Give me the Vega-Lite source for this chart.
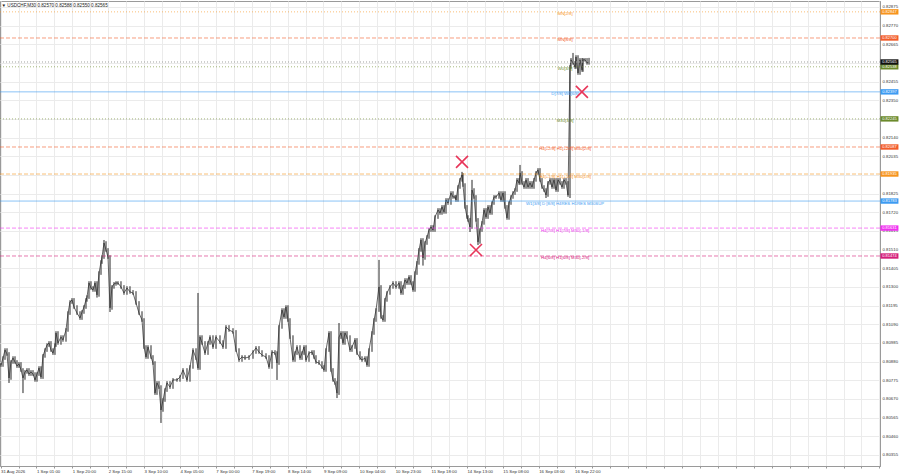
{
"$schema":"https://vega.github.io/schema/vega-lite/v6.json",
"width":880,"height":465,
"autosize":"none",
"padding":{"left":0,"top":1,"right":20,"bottom":8},
"background":"white",
"config":{"view":{"stroke":"#9a9a9a","strokeWidth":1},"font":"Liberation Sans"},
"title":{"text":"▼ USDCHF,M30  0.82570 0.82588 0.82550 0.82565","anchor":"start","offset":-7,"dx":2,"fontSize":4.6,"fontWeight":"normal","color":"#222","font":"Liberation Sans"},
"datasets":{
"bars":[
{"t":6.2,"c":0.80861,"h":0.80871,"l":0.80851},
{"t":7.26,"c":0.809,"h":0.8091,"l":0.80851},
{"t":8.32,"c":0.80945,"h":0.80955,"l":0.8089},
{"t":9.38,"c":0.80923,"h":0.80955,"l":0.80913},
{"t":10.44,"c":0.80788,"h":0.80933,"l":0.8076},
{"t":11.5,"c":0.80878,"h":0.80888,"l":0.80778},
{"t":12.56,"c":0.809,"h":0.8091,"l":0.80868},
{"t":13.62,"c":0.80878,"h":0.8091,"l":0.80868},
{"t":14.67,"c":0.80855,"h":0.80888,"l":0.80845},
{"t":15.73,"c":0.80867,"h":0.80877,"l":0.80845},
{"t":16.79,"c":0.80833,"h":0.80877,"l":0.80823},
{"t":17.85,"c":0.80788,"h":0.80843,"l":0.80703},
{"t":18.91,"c":0.80822,"h":0.80832,"l":0.80778},
{"t":19.97,"c":0.80833,"h":0.80843,"l":0.80812},
{"t":21.03,"c":0.8081,"h":0.80843,"l":0.808},
{"t":22.09,"c":0.80822,"h":0.80832,"l":0.808},
{"t":23.15,"c":0.8081,"h":0.80832,"l":0.808},
{"t":24.21,"c":0.80777,"h":0.8082,"l":0.80767},
{"t":25.27,"c":0.8081,"h":0.8082,"l":0.80767},
{"t":26.33,"c":0.80844,"h":0.80854,"l":0.808},
{"t":27.39,"c":0.80793,"h":0.80854,"l":0.80783},
{"t":28.45,"c":0.80912,"h":0.80922,"l":0.80783},
{"t":29.51,"c":0.80945,"h":0.80955,"l":0.80902},
{"t":30.57,"c":0.80973,"h":0.80983,"l":0.80935},
{"t":31.63,"c":0.80985,"h":0.80995,"l":0.80963},
{"t":32.68,"c":0.80945,"h":0.80995,"l":0.80935},
{"t":33.74,"c":0.80928,"h":0.80955,"l":0.80918},
{"t":34.8,"c":0.80973,"h":0.80983,"l":0.80918},
{"t":35.33,"c":0.81041,"h":0.81051,"l":0.80963},
{"t":36.39,"c":0.80985,"h":0.81051,"l":0.80975},
{"t":37.98,"c":0.81018,"h":0.81028,"l":0.80975},
{"t":39.04,"c":0.81002,"h":0.81028,"l":0.80992},
{"t":40.63,"c":0.81058,"h":0.81068,"l":0.80992},
{"t":41.69,"c":0.81153,"h":0.81163,"l":0.81048},
{"t":42.75,"c":0.81215,"h":0.81225,"l":0.81143},
{"t":43.81,"c":0.81227,"h":0.81237,"l":0.81205},
{"t":44.87,"c":0.81187,"h":0.81237,"l":0.81177},
{"t":46.46,"c":0.81153,"h":0.81197,"l":0.81143},
{"t":48.05,"c":0.81125,"h":0.81163,"l":0.81115},
{"t":49.11,"c":0.81159,"h":0.81169,"l":0.81115},
{"t":50.16,"c":0.81187,"h":0.81197,"l":0.81149},
{"t":51.22,"c":0.81227,"h":0.81237,"l":0.81177},
{"t":51.75,"c":0.81243,"h":0.81253,"l":0.81217},
{"t":52.81,"c":0.81322,"h":0.81332,"l":0.81233},
{"t":53.87,"c":0.81294,"h":0.81332,"l":0.81284},
{"t":54.93,"c":0.81283,"h":0.81304,"l":0.81273},
{"t":55.99,"c":0.81322,"h":0.81332,"l":0.81273},
{"t":57.05,"c":0.81255,"h":0.81332,"l":0.8124},
{"t":58.11,"c":0.81378,"h":0.81388,"l":0.81245},
{"t":59.17,"c":0.8144,"h":0.8145,"l":0.81368},
{"t":59.7,"c":0.81468,"h":0.81478,"l":0.8143},
{"t":60.76,"c":0.81547,"h":0.81564,"l":0.81458},
{"t":61.82,"c":0.81508,"h":0.81557,"l":0.81498},
{"t":62.88,"c":0.81468,"h":0.81518,"l":0.81458},
{"t":63.94,"c":0.81182,"h":0.81478,"l":0.81159},
{"t":65.0,"c":0.813,"h":0.8131,"l":0.81172},
{"t":66.06,"c":0.81317,"h":0.81327,"l":0.8129},
{"t":67.12,"c":0.81322,"h":0.81332,"l":0.81307},
{"t":68.17,"c":0.81322,"h":0.81332,"l":0.81312},
{"t":69.76,"c":0.813,"h":0.81332,"l":0.8129},
{"t":71.35,"c":0.81266,"h":0.8131,"l":0.81256},
{"t":72.94,"c":0.81294,"h":0.81304,"l":0.81256},
{"t":74.53,"c":0.81272,"h":0.81304,"l":0.81262},
{"t":76.12,"c":0.81266,"h":0.81282,"l":0.81256},
{"t":77.71,"c":0.8121,"h":0.81276,"l":0.812},
{"t":79.3,"c":0.81153,"h":0.8122,"l":0.81143},
{"t":80.89,"c":0.81114,"h":0.81163,"l":0.81104},
{"t":81.95,"c":0.80962,"h":0.81124,"l":0.80952},
{"t":83.01,"c":0.80906,"h":0.80972,"l":0.80896},
{"t":84.07,"c":0.80962,"h":0.80972,"l":0.80896},
{"t":85.66,"c":0.80906,"h":0.80972,"l":0.80896},
{"t":86.71,"c":0.80872,"h":0.80916,"l":0.80862},
{"t":87.77,"c":0.80703,"h":0.80882,"l":0.80693},
{"t":88.83,"c":0.8076,"h":0.8077,"l":0.80693},
{"t":89.89,"c":0.80737,"h":0.8077,"l":0.80727},
{"t":90.95,"c":0.80608,"h":0.80747,"l":0.80535},
{"t":92.01,"c":0.80664,"h":0.80674,"l":0.80598},
{"t":93.07,"c":0.8072,"h":0.8073,"l":0.80654},
{"t":94.13,"c":0.8076,"h":0.8077,"l":0.8071},
{"t":95.72,"c":0.80737,"h":0.8077,"l":0.80727},
{"t":97.31,"c":0.80777,"h":0.80787,"l":0.80727},
{"t":99.43,"c":0.80777,"h":0.80787,"l":0.80767},
{"t":101.02,"c":0.80793,"h":0.80803,"l":0.80767},
{"t":102.61,"c":0.80833,"h":0.80843,"l":0.80783},
{"t":104.72,"c":0.80777,"h":0.80843,"l":0.80767},
{"t":106.31,"c":0.8085,"h":0.8086,"l":0.80767},
{"t":107.9,"c":0.80945,"h":0.80955,"l":0.8084},
{"t":109.49,"c":0.809,"h":0.80955,"l":0.8089},
{"t":110.55,"c":0.80844,"h":0.81266,"l":0.80834},
{"t":111.61,"c":0.81018,"h":0.81028,"l":0.80834},
{"t":112.67,"c":0.80985,"h":0.81028,"l":0.80975},
{"t":114.26,"c":0.80928,"h":0.80995,"l":0.80918},
{"t":115.85,"c":0.80985,"h":0.80995,"l":0.80918},
{"t":116.91,"c":0.81018,"h":0.81028,"l":0.80975},
{"t":118.49,"c":0.80962,"h":0.81028,"l":0.80952},
{"t":120.09,"c":0.81018,"h":0.81028,"l":0.80952},
{"t":122.2,"c":0.8099,"h":0.81028,"l":0.8098},
{"t":123.79,"c":0.80962,"h":0.81,"l":0.80952},
{"t":125.38,"c":0.81075,"h":0.81085,"l":0.80952},
{"t":126.97,"c":0.81058,"h":0.81085,"l":0.81048},
{"t":129.09,"c":0.81047,"h":0.81068,"l":0.81037},
{"t":130.68,"c":0.80945,"h":0.81057,"l":0.80935},
{"t":132.27,"c":0.80889,"h":0.80955,"l":0.80879},
{"t":133.86,"c":0.80906,"h":0.80916,"l":0.80879},
{"t":135.45,"c":0.809,"h":0.80916,"l":0.8089},
{"t":137.57,"c":0.80906,"h":0.80916,"l":0.8089},
{"t":139.69,"c":0.80934,"h":0.80944,"l":0.80896},
{"t":141.27,"c":0.80957,"h":0.80967,"l":0.80924},
{"t":142.86,"c":0.80934,"h":0.80967,"l":0.80924},
{"t":144.45,"c":0.80917,"h":0.80944,"l":0.80907},
{"t":146.57,"c":0.80906,"h":0.80927,"l":0.80896},
{"t":148.16,"c":0.8085,"h":0.80916,"l":0.8084},
{"t":149.75,"c":0.80934,"h":0.80944,"l":0.8084},
{"t":151.34,"c":0.80928,"h":0.80944,"l":0.80918},
{"t":152.4,"c":0.80872,"h":0.80938,"l":0.80777},
{"t":153.46,"c":0.81075,"h":0.81085,"l":0.80862},
{"t":155.05,"c":0.8117,"h":0.8118,"l":0.81065},
{"t":156.11,"c":0.81131,"h":0.8118,"l":0.81121},
{"t":157.16,"c":0.81187,"h":0.81197,"l":0.81121},
{"t":158.22,"c":0.81114,"h":0.81197,"l":0.81104},
{"t":159.28,"c":0.81018,"h":0.81124,"l":0.81008},
{"t":160.87,"c":0.80889,"h":0.81028,"l":0.80879},
{"t":161.93,"c":0.80928,"h":0.80938,"l":0.80879},
{"t":162.99,"c":0.80962,"h":0.80972,"l":0.80918},
{"t":164.58,"c":0.809,"h":0.80972,"l":0.8089},
{"t":165.64,"c":0.80928,"h":0.80938,"l":0.8089},
{"t":166.7,"c":0.80962,"h":0.80972,"l":0.80918},
{"t":167.76,"c":0.80889,"h":0.80972,"l":0.80879},
{"t":169.35,"c":0.80928,"h":0.80938,"l":0.80879},
{"t":170.94,"c":0.80934,"h":0.80944,"l":0.80918},
{"t":172.0,"c":0.80906,"h":0.80944,"l":0.80896},
{"t":173.05,"c":0.80878,"h":0.80916,"l":0.80868},
{"t":174.64,"c":0.80872,"h":0.80888,"l":0.80862},
{"t":176.23,"c":0.8085,"h":0.80882,"l":0.8084},
{"t":177.29,"c":0.80833,"h":0.8086,"l":0.80823},
{"t":178.35,"c":0.80945,"h":0.80955,"l":0.80823},
{"t":179.94,"c":0.81041,"h":0.81051,"l":0.80935},
{"t":181.0,"c":0.80833,"h":0.81051,"l":0.80823},
{"t":182.06,"c":0.80777,"h":0.80843,"l":0.80767},
{"t":183.12,"c":0.8076,"h":0.80787,"l":0.8075},
{"t":184.18,"c":0.80703,"h":0.8077,"l":0.80675},
{"t":185.24,"c":0.81018,"h":0.81097,"l":0.80693},
{"t":186.3,"c":0.81041,"h":0.81051,"l":0.81008},
{"t":187.36,"c":0.80985,"h":0.81051,"l":0.80975},
{"t":188.42,"c":0.81041,"h":0.81051,"l":0.80975},
{"t":189.48,"c":0.81018,"h":0.81051,"l":0.81008},
{"t":191.07,"c":0.80945,"h":0.81028,"l":0.80935},
{"t":192.12,"c":0.80962,"h":0.80972,"l":0.80935},
{"t":193.71,"c":0.81002,"h":0.81012,"l":0.80952},
{"t":194.77,"c":0.80928,"h":0.81012,"l":0.80918},
{"t":196.36,"c":0.809,"h":0.80938,"l":0.8089},
{"t":197.42,"c":0.80889,"h":0.8091,"l":0.80879},
{"t":199.01,"c":0.809,"h":0.8091,"l":0.80879},
{"t":200.07,"c":0.80861,"h":0.8091,"l":0.80851},
{"t":201.13,"c":0.80945,"h":0.80955,"l":0.80851},
{"t":202.72,"c":0.81041,"h":0.81051,"l":0.80935},
{"t":203.78,"c":0.81114,"h":0.81124,"l":0.81031},
{"t":204.84,"c":0.8117,"h":0.8118,"l":0.81104},
{"t":206.43,"c":0.813,"h":0.81452,"l":0.8116},
{"t":207.49,"c":0.81131,"h":0.8131,"l":0.81121},
{"t":208.55,"c":0.81114,"h":0.81141,"l":0.81104},
{"t":209.6,"c":0.81227,"h":0.81237,"l":0.81104},
{"t":210.66,"c":0.81266,"h":0.81276,"l":0.81217},
{"t":212.25,"c":0.813,"h":0.8131,"l":0.81256},
{"t":213.84,"c":0.81322,"h":0.81332,"l":0.8129},
{"t":215.43,"c":0.813,"h":0.81332,"l":0.8129},
{"t":217.02,"c":0.81322,"h":0.81332,"l":0.8129},
{"t":218.08,"c":0.81266,"h":0.81332,"l":0.81256},
{"t":219.14,"c":0.813,"h":0.8131,"l":0.81256},
{"t":220.2,"c":0.81339,"h":0.81349,"l":0.8129},
{"t":221.26,"c":0.81322,"h":0.81349,"l":0.81312},
{"t":222.32,"c":0.81356,"h":0.81366,"l":0.81312},
{"t":223.38,"c":0.81322,"h":0.81366,"l":0.81312},
{"t":224.44,"c":0.81283,"h":0.81332,"l":0.81273},
{"t":225.5,"c":0.81378,"h":0.81388,"l":0.81273},
{"t":226.55,"c":0.81435,"h":0.81445,"l":0.81368},
{"t":227.61,"c":0.81508,"h":0.81518,"l":0.81425},
{"t":228.67,"c":0.81564,"h":0.81574,"l":0.81498},
{"t":229.73,"c":0.81463,"h":0.81574,"l":0.8142},
{"t":230.79,"c":0.81547,"h":0.81557,"l":0.81453},
{"t":231.85,"c":0.81581,"h":0.81591,"l":0.81537},
{"t":232.91,"c":0.8162,"h":0.8163,"l":0.81571},
{"t":233.97,"c":0.81637,"h":0.81647,"l":0.8161},
{"t":235.03,"c":0.8162,"h":0.81647,"l":0.8161},
{"t":236.09,"c":0.81693,"h":0.81703,"l":0.8161},
{"t":237.68,"c":0.81733,"h":0.81743,"l":0.81683},
{"t":238.74,"c":0.81716,"h":0.81743,"l":0.81706},
{"t":239.8,"c":0.8175,"h":0.8176,"l":0.81706},
{"t":240.86,"c":0.81722,"h":0.8176,"l":0.81712},
{"t":241.92,"c":0.81789,"h":0.81799,"l":0.81712},
{"t":242.98,"c":0.81772,"h":0.81799,"l":0.81762},
{"t":244.56,"c":0.81828,"h":0.81838,"l":0.81762},
{"t":245.62,"c":0.81806,"h":0.81838,"l":0.81796},
{"t":246.68,"c":0.81806,"h":0.81816,"l":0.81796},
{"t":247.21,"c":0.81789,"h":0.81816,"l":0.81779},
{"t":248.27,"c":0.81862,"h":0.81872,"l":0.81779},
{"t":249.33,"c":0.81902,"h":0.81912,"l":0.81852},
{"t":250.39,"c":0.8193,"h":0.81947,"l":0.81892},
{"t":250.92,"c":0.81873,"h":0.8194,"l":0.81863},
{"t":251.98,"c":0.8175,"h":0.81883,"l":0.8174},
{"t":253.04,"c":0.81693,"h":0.8176,"l":0.81683},
{"t":253.57,"c":0.81677,"h":0.81703,"l":0.81667},
{"t":254.63,"c":0.81637,"h":0.81687,"l":0.81609},
{"t":255.69,"c":0.81845,"h":0.81902,"l":0.81627},
{"t":256.75,"c":0.81806,"h":0.81855,"l":0.81796},
{"t":257.81,"c":0.81677,"h":0.81816,"l":0.81667},
{"t":258.87,"c":0.81553,"h":0.81687,"l":0.81536},
{"t":259.93,"c":0.8162,"h":0.8163,"l":0.81543},
{"t":260.99,"c":0.8166,"h":0.8167,"l":0.8161},
{"t":262.05,"c":0.81733,"h":0.81743,"l":0.8165},
{"t":263.11,"c":0.81693,"h":0.81743,"l":0.81683},
{"t":264.17,"c":0.8175,"h":0.8176,"l":0.81683},
{"t":265.23,"c":0.81716,"h":0.8176,"l":0.81706},
{"t":266.29,"c":0.81772,"h":0.81782,"l":0.81706},
{"t":267.34,"c":0.81806,"h":0.81816,"l":0.81762},
{"t":268.4,"c":0.81806,"h":0.81816,"l":0.81796},
{"t":269.99,"c":0.81828,"h":0.81838,"l":0.81796},
{"t":271.05,"c":0.81789,"h":0.81838,"l":0.81779},
{"t":272.11,"c":0.81828,"h":0.81838,"l":0.81779},
{"t":273.17,"c":0.8175,"h":0.81838,"l":0.8174},
{"t":274.23,"c":0.81688,"h":0.8176,"l":0.81678},
{"t":275.29,"c":0.81772,"h":0.81782,"l":0.81678},
{"t":276.35,"c":0.81806,"h":0.81816,"l":0.81762},
{"t":277.41,"c":0.81828,"h":0.81838,"l":0.81796},
{"t":278.47,"c":0.81845,"h":0.81855,"l":0.81818},
{"t":279.53,"c":0.81902,"h":0.81912,"l":0.81835},
{"t":280.59,"c":0.81885,"h":0.81912,"l":0.81875},
{"t":281.12,"c":0.81941,"h":0.81986,"l":0.81875},
{"t":282.18,"c":0.81885,"h":0.81951,"l":0.81875},
{"t":283.24,"c":0.81862,"h":0.81895,"l":0.81852},
{"t":284.3,"c":0.81902,"h":0.81912,"l":0.81852},
{"t":285.36,"c":0.81862,"h":0.81912,"l":0.81852},
{"t":286.41,"c":0.81885,"h":0.81895,"l":0.81852},
{"t":287.47,"c":0.81862,"h":0.81895,"l":0.81852},
{"t":288.53,"c":0.81902,"h":0.81912,"l":0.81852},
{"t":289.59,"c":0.81941,"h":0.81951,"l":0.81892},
{"t":290.65,"c":0.81958,"h":0.81968,"l":0.81931},
{"t":291.71,"c":0.81902,"h":0.81968,"l":0.81892},
{"t":292.77,"c":0.81862,"h":0.81912,"l":0.81852},
{"t":293.83,"c":0.81845,"h":0.81872,"l":0.81835},
{"t":294.89,"c":0.81817,"h":0.81855,"l":0.818},
{"t":295.95,"c":0.81885,"h":0.81895,"l":0.81807},
{"t":297.01,"c":0.81902,"h":0.81912,"l":0.81875},
{"t":298.07,"c":0.81862,"h":0.81912,"l":0.81852},
{"t":299.13,"c":0.81902,"h":0.81912,"l":0.81852},
{"t":300.19,"c":0.81845,"h":0.81912,"l":0.81835},
{"t":301.25,"c":0.81902,"h":0.81912,"l":0.81835},
{"t":302.3,"c":0.81885,"h":0.81912,"l":0.81875},
{"t":303.36,"c":0.81862,"h":0.81895,"l":0.81852},
{"t":304.42,"c":0.81902,"h":0.81912,"l":0.81852},
{"t":305.48,"c":0.81885,"h":0.81912,"l":0.81875},
{"t":306.54,"c":0.81817,"h":0.81895,"l":0.81807},
{"t":307.6,"c":0.82537,"h":0.82547,"l":0.818},
{"t":308.13,"c":0.82577,"h":0.82587,"l":0.82527},
{"t":309.19,"c":0.8256,"h":0.82616,"l":0.8255},
{"t":310.25,"c":0.82537,"h":0.8257,"l":0.82527},
{"t":310.78,"c":0.82593,"h":0.82603,"l":0.82527},
{"t":311.84,"c":0.82503,"h":0.82603,"l":0.82493},
{"t":312.9,"c":0.82577,"h":0.82587,"l":0.82493},
{"t":313.96,"c":0.8252,"h":0.82587,"l":0.8251},
{"t":314.49,"c":0.82577,"h":0.82587,"l":0.8251},
{"t":315.55,"c":0.82577,"h":0.82587,"l":0.82567},
{"t":316.61,"c":0.8256,"h":0.82587,"l":0.8255},
{"t":317.67,"c":0.82565,"h":0.82588,"l":0.8255}
],
"levels":[
{"name":"MN2","p":0.82847,"kind":"dotted","label":"MN[2/8]"},
{"name":"MN8","p":0.827,"kind":"dashed","label":"MN[8/8]"},
{"name":"W03","p":0.82538,"kind":"dotted","label":"W0[3/8]"},
{"name":"D7","p":0.82397,"kind":"solid","label":"D[7/8] W0[6/8]"},
{"name":"M303","p":0.82245,"kind":"dotted","label":"M30[3/8]"},
{"name":"H4p2","p":0.82087,"kind":"dashed","label":"H4[+2/8] H1[+2/8] M30[2/8]"},
{"name":"H4p1","p":0.81935,"kind":"dashed","label":"H4[+1/8] H1[+1/8] M30[1/8]"},
{"name":"W13","p":0.81783,"kind":"solid","label":"W1[3/8] D [8/8] H4RES H1RES M30SUP"},
{"name":"H47","p":0.81631,"kind":"dashed","label":"H4[7/8] H1[7/8] M30[-1/8]"},
{"name":"H46","p":0.81474,"kind":"dashed","label":"H4[6/8] H1[6/8] M30[-2/8]"}
],
"bid":[{"name":"cur","p":0.82565}],
"marks":[{"t":250.4,"p":0.82003},{"t":257.8,"p":0.81508},{"t":313.9,"p":0.82397}]
},
"layer":[
{"data":{"name":"bars"},
 "mark":{"type":"rule","color":"#262626","strokeWidth":1},
 "encoding":{
  "x":{"field":"t","type":"quantitative","title":null,
       "scale":{"domain":[5.67,471.8],"nice":false,"zero":false},
       "axis":{"orient":"bottom","tickCount":500,"values":[6,15.5,25,34.5,44,53.5,63,72.5,82,91.5,101,110.5,120,129.5,139,148.5,158,167.5,177,186.5,196,205.5,215,224.5,234,243.5,253,262.5,272,281.5,291,300.5,310,319.5,329,338.5,348,357.5,367,376.5,386,395.5,405,414.5,424,433.5,443,452.5,462,471.5],
         "labelExpr":"datum.value <= 310 && (datum.value - 6) % 19 == 0 ? ['31 Aug 2026','1 Sep 01:00','1 Sep 20:00','2 Sep 15:00','3 Sep 10:00','4 Sep 05:00','7 Sep 00:00','7 Sep 19:00','8 Sep 14:00','9 Sep 09:00','10 Sep 04:00','10 Sep 23:00','11 Sep 18:00','14 Sep 13:00','15 Sep 08:00','16 Sep 03:00','16 Sep 22:00'][(datum.value - 6) / 19] : ''",
         "labelAlign":"left","labelBaseline":"top","labelPadding":1,"labelFontSize":4.3,"labelColor":"#333","labelFont":"Liberation Sans",
         "labelOverlap":false,"labelBound":false,"labelFlush":false,
         "ticks":true,"tickSize":2,"tickColor":"#999","domainColor":"#9a9a9a",
         "grid":true,"gridColor":"#ebebeb","gridWidth":1}},
  "y":{"field":"h","type":"quantitative","title":null,
       "scale":{"domain":[0.80293,0.82908],"nice":false,"zero":false},
       "axis":{"orient":"right","tickCount":500,"values":[0.82875,0.8277,0.82665,0.8256,0.82455,0.8235,0.82245,0.8214,0.82035,0.8193,0.81825,0.8172,0.81615,0.8151,0.81405,0.813,0.81195,0.8109,0.80985,0.8088,0.80775,0.8067,0.80565,0.8046,0.80355],
         "format":".5f","labelFontSize":4.3,"labelColor":"#333","labelFont":"Liberation Sans","labelPadding":2,"labelOverlap":false,"labelBound":false,"labelFlush":false,
         "ticks":false,"domainColor":"#9a9a9a","grid":true,"gridColor":"#ebebeb","gridWidth":1}},
  "y2":{"field":"l"}}},
{"data":{"name":"bars"},
 "mark":{"type":"line","color":"#262626","strokeWidth":0.7},
 "encoding":{"x":{"field":"t","type":"quantitative"},"y":{"field":"c","type":"quantitative"}}},
{"data":{"name":"bid"},
 "mark":{"type":"rule","color":"#a0a0a0","strokeWidth":1,"strokeDash":[1,2]},
 "encoding":{"y":{"field":"p","type":"quantitative"}}},
{"data":{"name":"levels"},
 "mark":{"type":"rule","strokeWidth":1,"opacity":0.6},
 "encoding":{
  "y":{"field":"p","type":"quantitative"},
  "color":{"field":"name","type":"nominal","legend":null,
     "scale":{"domain":["MN2","MN8","cur","W03","D7","M303","H4p2","H4p1","W13","H47","H46"],
              "range":["#f7941d","#f25c2a","#111111","#6b8a2b","#3d9bf2","#6b8a2b","#f25c2a","#f7941d","#3d9bf2","#f032f0","#d4207a"]}},
  "strokeDash":{"field":"kind","type":"nominal","legend":null,
     "scale":{"domain":["solid","dashed","dotted"],"range":[[1,0],[4,2],[1,2]]}}}},
{"data":{"name":"levels"},
 "mark":{"type":"text","fontSize":4.3,"font":"Liberation Sans","align":"center","baseline":"top","dy":0.5},
 "encoding":{
  "x":{"datum":305,"type":"quantitative"},
  "y":{"field":"p","type":"quantitative"},
  "text":{"field":"label"},
  "color":{"field":"name","type":"nominal","legend":null}}},
{"data":{"name":"marks"},
 "mark":{"type":"point","shape":"M-1,-1L1,1M1,-1L-1,1","filled":false,"size":144,"strokeWidth":1.6,"color":"#e8365a","opacity":1},
 "encoding":{"x":{"field":"t","type":"quantitative"},"y":{"field":"p","type":"quantitative"}}},
{"data":{"name":"levels"},
 "mark":{"type":"point","shape":"M-1,-0.3H1V0.3H-1Z","filled":true,"size":324,"opacity":1,"clip":false},
 "encoding":{
  "x":{"datum":476.8,"type":"quantitative"},
  "y":{"field":"p","type":"quantitative"},
  "color":{"field":"name","type":"nominal","legend":null}}},
{"data":{"name":"levels"},
 "mark":{"type":"text","fontSize":4,"font":"Liberation Sans","align":"center","baseline":"middle","color":"white","clip":false},
 "encoding":{
  "x":{"datum":476.8,"type":"quantitative"},
  "y":{"field":"p","type":"quantitative"},
  "text":{"field":"p","format":".5f"}}},
{"data":{"name":"bid"},
 "mark":{"type":"point","shape":"M-1,-0.3H1V0.3H-1Z","filled":true,"size":324,"opacity":1,"color":"#111111","clip":false},
 "encoding":{
  "x":{"datum":476.8,"type":"quantitative"},
  "y":{"field":"p","type":"quantitative"}}},
{"data":{"name":"bid"},
 "mark":{"type":"text","fontSize":4,"font":"Liberation Sans","align":"center","baseline":"middle","color":"white","clip":false},
 "encoding":{
  "x":{"datum":476.8,"type":"quantitative"},
  "y":{"field":"p","type":"quantitative"},
  "text":{"field":"p","format":".5f"}}}
]
}
